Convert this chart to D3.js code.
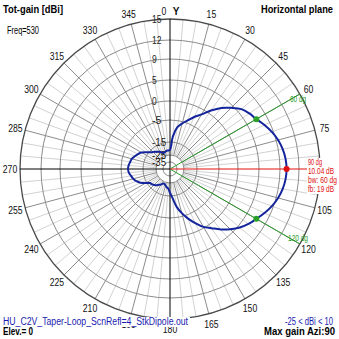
<!DOCTYPE html>
<html><head><meta charset="utf-8">
<script src="https://cdn.jsdelivr.net/npm/d3@7"></script>
<style>html,body{margin:0;padding:0;background:#fff;}svg{display:block;}</style>
</head><body>
<svg id="chart" width="339" height="339"></svg>
<script>
// Azimuth (degrees, clockwise from +Y) and total gain (dBi), horizontal plane
const azimuths = [0,5,10,15,20,25,30,35,40,45,50,55,60,65,70,75,80,85,
  90,95,100,105,110,115,120,125,130,135,140,145,150,155,160,165,170,175,
  180,185,190,195,200,205,210,215,220,225,230,235,240,245,250,255,260,265,
  270,275,280,285,290,295,300,305,310,315,320,325,330,335,340,345,350,355];
const gains = [-21,-12.5,-8,-5.8,-4.3,-2.8,-1.3,0.8,2.8,4.4,5.8,6.5,7.04,7.9,8.7,9.3,9.7,9.95,
  10.04,9.95,9.7,9.3,8.7,7.9,7.04,6.3,5.4,4.1,2.6,1.0,-0.3,-2.2,-4.0,-6.5,-9.8,-14,
  -17.5,-20.5,-21.5,-22.5,-23.5,-23.5,-22,-21,-19.5,-18.5,-17.5,-17,-14.5,-12.5,-11,-10,-9.3,-8.5,
  -8.2,-8.4,-8.9,-9.3,-10.3,-11.2,-12.3,-14,-15.8,-17.3,-18.5,-19.5,-20.5,-22,-22.5,-22,-21.5,-21.5];

// Grid rings (dBi) and azimuth tick labels
const ringValues = [15, 12, 9, 5, 0, -5, -15, -25, -35];
const azTicks = ["0","15","30","45","60","75","90","105","120","135","150","165",
  "180","195","210","225","240","255","270","285","300","315","330","345"];

// Max gain and half-power beam edges
const maxAz = 90, maxGain = 10.04;
const beamEdges = [60, 120];
const beamWidth = 60, frontBack = 19;
const freqMHz = 530, elevation = 0;
const scaleMin = -25, scaleMax = 10;

const svg = d3.select("#chart");
const cx = 170, cy = 169, R = 150;
const FONT = "'Liberation Sans', Arial, sans-serif";

// Radial gain scale (compressed log-like spacing of the rings)
const r = d3.scaleLinear()
  .domain(ringValues.slice().reverse())
  .range([7, 14, 27, 49, 68, 89, 110, 129, R])
  .clamp(true);

const rad = a => a * Math.PI / 180;
const px = (a, d) => cx + d * Math.sin(rad(a));
const py = (a, d) => cy - d * Math.cos(rad(a));

function fit(sel, w) {
  return sel.attr("textLength", w).attr("lengthAdjust", "spacingAndGlyphs");
}

const grid = svg.append("g");
const rIn = r(-25);

// light 5-degree spokes
grid.selectAll("line.minor")
  .data(d3.range(0, 360, 5).filter(a => a % 15 !== 0))
  .join("line")
  .attr("x1", a => px(a, rIn)).attr("y1", a => py(a, rIn))
  .attr("x2", a => px(a, R)).attr("y2", a => py(a, R))
  .attr("stroke", "#d2d2d2").attr("stroke-width", 1);

// darker 15-degree spokes
grid.selectAll("line.major")
  .data(d3.range(0, 360, 15).filter(a => a % 90 !== 0))
  .join("line")
  .attr("x1", a => px(a, rIn)).attr("y1", a => py(a, rIn))
  .attr("x2", a => px(a, R)).attr("y2", a => py(a, R))
  .attr("stroke", "#8c8c8c").attr("stroke-width", 1);

// rings
grid.selectAll("circle.ring")
  .data(ringValues.slice(1))
  .join("circle")
  .attr("cx", cx).attr("cy", cy).attr("r", d => r(d))
  .attr("fill", "none").attr("stroke", "#8c8c8c").attr("stroke-width", 1);

grid.append("circle")
  .attr("cx", cx).attr("cy", cy).attr("r", r(15))
  .attr("fill", "none").attr("stroke", "#4a4a4a").attr("stroke-width", 1.3);

// axes
grid.append("line").attr("x1", cx).attr("y1", cy - R).attr("x2", cx).attr("y2", cy + R)
  .attr("stroke", "#000").attr("stroke-width", 1);
grid.append("line").attr("x1", cx - R).attr("y1", cy).attr("x2", cx).attr("y2", cy)
  .attr("stroke", "#000").attr("stroke-width", 1);

// beam-width lines
svg.selectAll("line.bw").data(beamEdges).join("line")
  .attr("x1", cx).attr("y1", cy)
  .attr("x2", a => px(a, R)).attr("y2", a => py(a, R))
  .attr("stroke", "#2a9a2a").attr("stroke-width", 1);

// max gain line
svg.append("line").attr("x1", cx).attr("y1", cy)
  .attr("x2", px(maxAz, 138)).attr("y2", py(maxAz, 138))
  .attr("stroke", "#e01010").attr("stroke-width", 1);

// ring labels
svg.selectAll("text.ring").data(ringValues).join("text")
  .attr("x", 152).attr("y", d => cy - r(d) + 3.5)
  .attr("font-family", FONT).attr("font-size", 10).attr("fill", "#222")
  .text(d => d)
  .each(function(d){ fit(d3.select(this), String(d).length * 4.7); });

// pattern
const pts = azimuths.map((a, i) => [rad(a), r(gains[i])]);
const line = d3.lineRadial().angle(d => d[0]).radius(d => d[1])
  .curve(d3.curveCatmullRomClosed.alpha(0.5));
svg.append("path")
  .attr("transform", `translate(${cx},${cy})`)
  .attr("d", line(pts))
  .attr("fill", "none").attr("stroke", "#14249c").attr("stroke-width", 2);

// markers
const beamGain = maxGain - 3;
svg.selectAll("circle.bwpt").data(beamEdges).join("circle")
  .attr("cx", a => px(a, r(beamGain))).attr("cy", a => py(a, r(beamGain)))
  .attr("r", 3).attr("fill", "#2aa02a");
svg.append("circle").attr("cx", px(maxAz, r(maxGain))).attr("cy", py(maxAz, r(maxGain)))
  .attr("r", 3).attr("fill", "#e01010");

// azimuth labels
svg.selectAll("text.az").data(azTicks.map((t, i) => ({t, a: i * 15})).filter(d => d.a !== 0))
  .join("text")
  .attr("x", d => px(d.a, 160)).attr("y", d => py(d.a, 160) + 4)
  .attr("text-anchor", "middle")
  .attr("font-family", FONT).attr("font-size", 10).attr("fill", "#111")
  .text(d => d.t)
  .each(function(d){ fit(d3.select(this), d.t.length * 4.8); });
fit(svg.append("text").attr("x", 164).attr("y", 15).attr("text-anchor", "middle")
  .attr("font-family", FONT).attr("font-size", 10).attr("fill", "#111").text(azTicks[0]), 4.8);
svg.append("text").attr("x", 176).attr("y", 15).attr("text-anchor", "middle")
  .attr("font-family", FONT).attr("font-size", 10).attr("font-weight", "bold").attr("fill", "#111").text("Y");

// max gain annotation
const red = svg.append("g").attr("font-family", FONT).attr("font-size", 8.5).attr("fill", "#e01010");
red.append("rect").attr("x", 307).attr("y", 158).attr("width", 32).attr("height", 36).attr("fill", "#fff");
[[`${maxAz} dg`, 165, 14], [`${maxGain.toFixed(2)} dB`, 173.5, 26], [`bw: ${beamWidth} dg`, 182.5, 29], [`fb: ${frontBack} dB`, 191.5, 26]]
  .forEach(([t, y, w]) => fit(red.append("text").attr("x", 308).attr("y", y).text(t), w));

// beam edge labels
const green = svg.append("g").attr("font-family", FONT).attr("font-size", 8.5).attr("fill", "#2a9a2a");
fit(green.append("text").attr("x", 290).attr("y", 102).text(`${beamEdges[0]} dg`), 16);
fit(green.append("text").attr("x", 288).attr("y", 241).text(`${beamEdges[1]} dg`), 20);

// titles
const T = svg.append("g").attr("font-family", FONT);
fit(T.append("text").attr("x", 3).attr("y", 13).attr("font-size", 11).attr("font-weight", "bold").text("Tot-gain [dBi]"), 60);
fit(T.append("text").attr("x", 7).attr("y", 33.5).attr("font-size", 10).text(`Freq=${freqMHz}`), 32);
fit(T.append("text").attr("x", 333).attr("y", 13).attr("text-anchor", "end").attr("font-size", 11).attr("font-weight", "bold").text("Horizontal plane"), 72);

T.append("rect").attr("x", 2).attr("y", 317).attr("width", 188).attr("height", 10).attr("fill", "#fff");
fit(T.append("text").attr("x", 3).attr("y", 325).attr("font-size", 10).attr("fill", "#1a1ab0")
  .text("HU_C2V_Taper-Loop_ScnRefl=4_StkDipole.out"), 185);
fit(T.append("text").attr("x", 3).attr("y", 335).attr("font-size", 11).attr("font-weight", "bold").text(`Elev.= ${elevation}`), 30);
fit(T.append("text").attr("x", 333).attr("y", 325).attr("text-anchor", "end").attr("font-size", 10).attr("fill", "#1a1ab0")
  .text(`${scaleMin} < dBi < ${scaleMax}`), 48);
fit(T.append("text").attr("x", 335).attr("y", 335).attr("text-anchor", "end").attr("font-size", 11).attr("font-weight", "bold")
  .text(`Max gain Azi:${maxAz}`), 71);
</script>
</body></html>
